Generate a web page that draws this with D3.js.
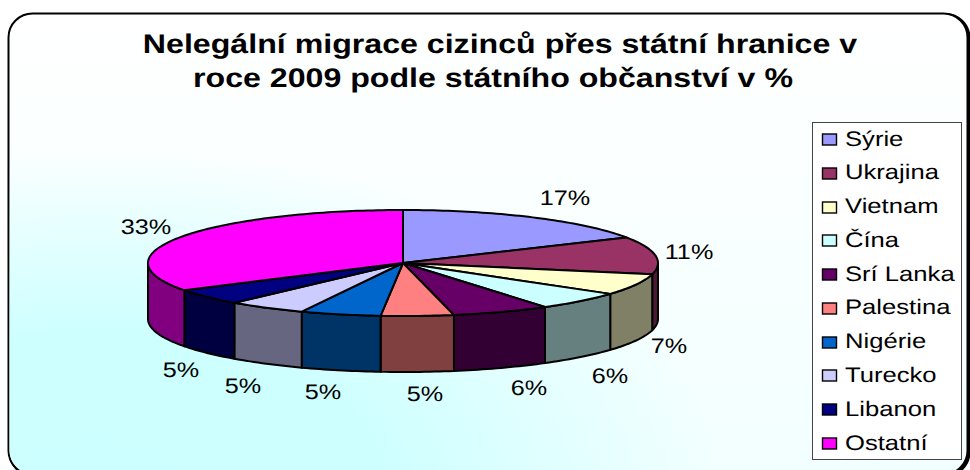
<!DOCTYPE html>
<html>
<head>
<meta charset="utf-8">
<script src="https://cdnjs.cloudflare.com/ajax/libs/d3/7.8.5/d3.min.js"></script>
<style>
  html, body { margin: 0; padding: 0; background: #fff; }
  svg { display: block; }
  text { font-family: "Liberation Sans", Arial, sans-serif; fill: #000; text-rendering: geometricPrecision; }
</style>
</head>
<body>
<svg id="vis" width="970" height="470"></svg>
<script>
const titleLines = ["Nelegální migrace cizinců přes státní hranice v", "roce 2009 podle státního občanství v %"];
const categories = ["Sýrie", "Ukrajina", "Vietnam", "Čína", "Srí Lanka", "Palestina", "Nigérie", "Turecko", "Libanon", "Ostatní"];
const values = [17, 11.4, 6.5, 5.7, 6.2, 4.6, 5.1, 5, 4.9, 33.6];
const pctLabels = ["17%", "11%", "7%", "6%", "6%", "5%", "5%", "5%", "5%", "33%"];
const colors = ["#9999ff", "#993366", "#ffffcc", "#ccffff", "#660066", "#ff8080", "#0066cc", "#ccccff", "#000080", "#ff00ff"];
const labelSpots = [[565, 197], [689, 251], [669, 345], [610, 375], [529, 387], [425, 393], [323, 391], [243, 385], [181, 369], [146, 226]];

const svg = d3.select("#vis");
const cx = 403, cy = 263, rx = 255, ry = 53, depth = 56;

const defs = svg.append("defs");
const grad = defs.append("linearGradient").attr("id", "bg").attr("x1", 0).attr("y1", 0).attr("x2", 0).attr("y2", 1);
grad.append("stop").attr("offset", "0%").attr("stop-color", "#ffffff");
grad.append("stop").attr("offset", "100%").attr("stop-color", "#f2ffff");

const glow = defs.append("radialGradient").attr("id", "glow")
  .attr("gradientUnits", "userSpaceOnUse")
  .attr("cx", 0).attr("cy", 0).attr("r", 1)
  .attr("gradientTransform", "translate(100,480) scale(620,330)");
glow.append("stop").attr("offset", "0%").attr("stop-color", "#ccffff").attr("stop-opacity", 1);
glow.append("stop").attr("offset", "45%").attr("stop-color", "#ccffff").attr("stop-opacity", 0.95);
glow.append("stop").attr("offset", "100%").attr("stop-color", "#ccffff").attr("stop-opacity", 0);

// dark copy behind gives the heavier right and bottom edge
svg.append("rect")
  .attr("x", 9.5).attr("y", 14).attr("width", 960).attr("height", 462)
  .attr("rx", 24).attr("ry", 24)
  .attr("fill", "#000").attr("stroke", "#000").attr("stroke-width", 2);
svg.append("rect")
  .attr("x", 8.5).attr("y", 13.5).attr("width", 959).attr("height", 461)
  .attr("rx", 24).attr("ry", 24)
  .attr("fill", "url(#bg)").attr("stroke", "#000").attr("stroke-width", 2);
svg.append("rect")
  .attr("x", 9.5).attr("y", 14.5).attr("width", 957).attr("height", 459)
  .attr("rx", 23).attr("ry", 23)
  .attr("fill", "url(#glow)");

// the picture is stretched sideways, so text gets scaled in x
function stretched(sel, x, y, anchor, sx) {
  sel.attr("text-anchor", anchor)
    .attr("transform", `translate(${x},${y}) scale(${sx},1)`);
}

svg.selectAll(".title")
  .data(titleLines)
  .enter()
  .append("text")
  .attr("class", "title")
  .attr("font-size", 27)
  .attr("font-weight", "bold")
  .text(d => d)
  .each(function(d, i) { stretched(d3.select(this), i == 0 ? 500 : 493, 53 + i * 34, "middle", 1.19); });

const pie = d3.pie().sort(null).value(d => d);
const arcs = pie(values);

function px(a) { return cx + rx * Math.sin(a); }
function py(a, dy) { return cy - ry * Math.cos(a) + (dy || 0); }

function rimPath(a0, a1, dy, reverse) {
  const n = Math.max(2, Math.ceil((a1 - a0) / 0.02));
  const pts = d3.range(n + 1).map(i => {
    const a = a0 + (a1 - a0) * i / n;
    return [px(a), py(a, dy)];
  });
  return reverse ? pts.reverse() : pts;
}

function halfColor(c) {
  const k = d3.rgb(c);
  return d3.rgb(k.r / 2, k.g / 2, k.b / 2);
}

// side walls, only the part facing the viewer
const wall = svg.append("g");
arcs.forEach((d, i) => {
  const a0 = Math.max(d.startAngle, Math.PI / 2);
  const a1 = Math.min(d.endAngle, Math.PI * 3 / 2);
  if (a1 <= a0) return;
  const pts = rimPath(a0, a1, 0, false).concat(rimPath(a0, a1, depth, true));
  wall.append("path")
    .attr("d", d3.line()(pts) + "Z")
    .attr("fill", halfColor(colors[i]))
    .attr("stroke", "#000").attr("stroke-width", 2).attr("stroke-linejoin", "round");
});

// top face
const face = svg.append("g");
arcs.forEach((d, i) => {
  const pts = [[cx, cy]].concat(rimPath(d.startAngle, d.endAngle, 0, false));
  face.append("path")
    .attr("d", d3.line()(pts) + "Z")
    .attr("fill", colors[i])
    .attr("stroke", "#000").attr("stroke-width", 2).attr("stroke-linejoin", "round");
});

svg.selectAll(".pct")
  .data(pctLabels)
  .enter()
  .append("text")
  .attr("class", "pct")
  .attr("font-size", 21)
  .text(d => d)
  .each(function(d, i) { stretched(d3.select(this), labelSpots[i][0], labelSpots[i][1] + 7.5, "middle", 1.2); });

// legend
const legendY = d3.scalePoint().domain(categories).range([139, 443]);
svg.append("rect")
  .attr("x", 812.5).attr("y", 122.5).attr("width", 149).attr("height", 337)
  .attr("fill", "#fff").attr("stroke", "#444").attr("stroke-width", 1);

const legend = svg.selectAll(".legend")
  .data(categories)
  .enter()
  .append("g")
  .attr("class", "legend");

legend.append("rect")
  .attr("x", 822.5)
  .attr("y", d => Math.round(legendY(d)) - 5)
  .attr("width", 14).attr("height", 11)
  .attr("fill", (d, i) => colors[i])
  .attr("stroke", "#000").attr("stroke-width", 1.4);

legend.append("text")
  .attr("font-size", 21)
  .text(d => d)
  .each(function(d) { stretched(d3.select(this), 845, legendY(d) + 6.5, "start", 1.22); });
</script>
</body>
</html>
